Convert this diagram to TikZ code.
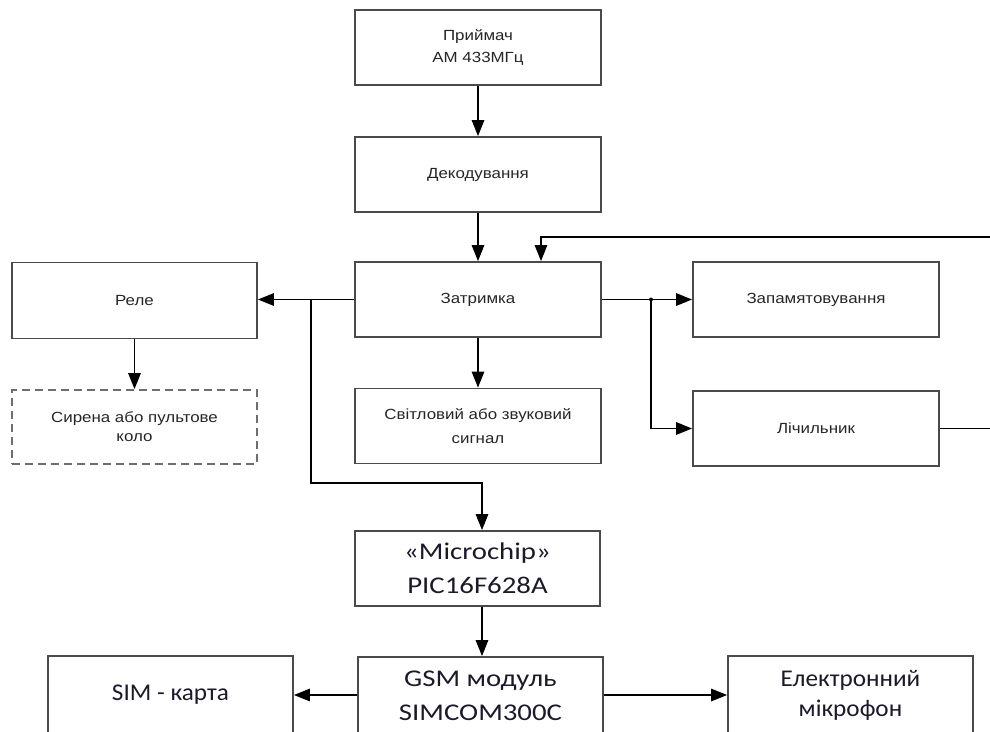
\documentclass[tikz,border=0pt]{standalone}
\usepackage{fontspec}
\setmainfont{Liberation Sans}
\newfontfamily\arialx[FakeStretch=1.15]{Liberation Sans}
\newfontfamily\calx[FakeStretch=1.2]{Carlito}
\newfontfamily\calw[FakeStretch=1.05]{Carlito}
\usetikzlibrary{arrows.meta}
\definecolor{boxgray}{HTML}{4A4A4A}
\definecolor{txtgray}{HTML}{262626}
\definecolor{txtdark}{HTML}{1A1A2A}
\tikzset{
  blk/.style={draw=boxgray, line width=1.8pt, minimum width=246pt, minimum height=75pt,
    inner sep=0pt, align=center, text=txtgray, font=\arialx\fontsize{14.7}{22}\selectfont},
  blkdash/.style={blk, dashed, dash pattern=on 8pt off 5pt, draw=boxgray!80},
  blkbig/.style={blk, text=txtdark, font=\calx\fontsize{24}{34}\selectfont},
  blkwide/.style={blk, text=txtdark, font=\calw\fontsize{24}{30}\selectfont},
  conn/.style={draw=black, line width=1.4pt},
  arr/.style={conn, -{Triangle[length=16pt,width=12.5pt]}},
  jdot/.style={circle, fill=black, inner sep=0pt, minimum size=4pt}
}
\begin{document}
\begin{tikzpicture}[x=1pt,y=-1pt]
\useasboundingbox (0,0) rectangle (990,731);
\clip (0,0) rectangle (990,731);
\node[blk] (rx) at (478,47.5) {Приймач\\АМ 433МГц};
\node[blk] (dec) at (478,174.5) {Декодування};
\node[blk] (del) at (478,299.5) {Затримка};
\node[blk, minimum width=245pt, minimum height=76pt] (rel) at (134.5,300.5) {Реле};
\node[blkdash, minimum width=245pt, minimum height=74pt,
  font=\arialx\fontsize{14.7}{19}\selectfont] (sir) at (134.5,427) {Сирена або пультове\\коло};
\node[blk, font=\arialx\fontsize{14.7}{24}\selectfont] (sig) at (478,426) {Світловий або звуковий\\сигнал};
\node[blk] (mem) at (816,299.5) {Запамятовування};
\node[blk] (cnt) at (816,428.5) {Лічильник};
\node[blkbig, minimum width=245pt] (mcu) at (477.5,568.5) {«Microchip»\\PIC16F628A};
\node[blkbig, minimum width=245pt, minimum height=78pt] (gsm) at (480.5,696) {GSM модуль\\SIMCOM300C};
\node[blkwide, minimum width=245pt, minimum height=78pt] (sim) at (170.5,695) {SIM - карта};
\node[blkwide, minimum width=245pt, minimum height=78pt] (mic) at (850.5,695) {Електронний\\мікрофон};

\coordinate (fbR) at (990,237);
\coordinate (cntR) at (990,428.5);
\coordinate (jL) at (311,299.5);
\coordinate (jLd) at (311,483);
\coordinate (mcuIn) at ([xshift=4.5pt]mcu.north);
\coordinate (mcuOut) at ([xshift=4.5pt]mcu.south);
\node[jdot] (jR) at (651,299.5) {};

\draw[arr] (rx.south) -- (dec.north);
\draw[arr] (dec.south) -- (del.north);
\draw[arr] (fbR) -| ([xshift=63pt]del.north);
\draw[arr] (del.west) -- (rel.east |- del.west);
\draw[arr] (jL) -- (jLd) -| (mcuIn);
\draw[arr] (rel.south) -- (sir.north);
\draw[arr] (del.south) -- (sig.north);
\draw[conn] (del.east) -- (jR.center);
\draw[arr] (jR.center) -- (mem.west);
\draw[arr] (jR.center) |- (cnt.west);
\draw[conn] (cnt.east) -- (cntR);
\draw[arr] (mcuOut) -- (mcuOut |- gsm.north);
\draw[arr] (gsm.west |- sim.east) -- (sim.east);
\draw[arr] (gsm.east |- mic.west) -- (mic.west);
\end{tikzpicture}
\end{document}
